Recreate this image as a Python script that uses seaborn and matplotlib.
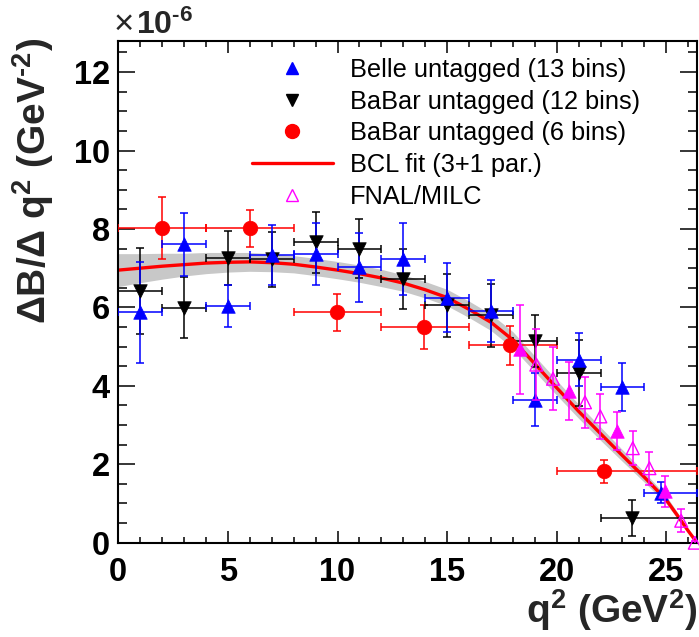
import numpy as np
import pandas as pd
import matplotlib
matplotlib.use("Agg")
import matplotlib.pyplot as plt
import seaborn as sns
from matplotlib.ticker import MultipleLocator
from matplotlib.lines import Line2D

# ---------------- data (units of 1e-6) ----------------
belle_x = [1, 3, 5, 7, 9, 11, 13, 15, 17, 19, 21, 23, 24.75]
belle_xlo = [0, 2, 4, 6, 8, 10, 12, 14, 16, 18, 20, 22, 24]
belle_xhi = [2, 4, 6, 8, 10, 12, 14, 16, 18, 20, 22, 24, 26.4]
belle_y = [5.87, 7.61, 6.04, 7.33, 7.36, 7.02, 7.23, 6.25, 5.91, 3.65, 4.67, 3.97, 1.28]
belle_yerr = [1.29, 0.80, 0.54, 0.76, 0.80, 0.88, 0.92, 0.88, 0.78, 0.67, 0.67, 0.62, 0.28]

babar12_x = [1, 3, 5, 7, 9, 11, 13, 15, 17, 19, 21, 23.45]
babar12_xlo = [0, 2, 4, 6, 8, 10, 12, 14, 16, 18, 20, 22]
babar12_xhi = [2, 4, 6, 8, 10, 12, 14, 16, 18, 20, 22, 26.4]
babar12_y = [6.42, 5.99, 7.26, 7.23, 7.66, 7.50, 6.72, 6.05, 5.80, 5.14, 4.33, 0.62]
babar12_yerr = [1.10, 0.78, 0.70, 0.70, 0.78, 0.76, 0.77, 0.80, 0.80, 0.67, 0.85, 0.46]

babar6_x = [2.0, 6.0, 9.98, 13.93, 17.89, 22.18]
babar6_xlo = [0, 4, 8, 12, 16, 20]
babar6_xhi = [4, 8, 12, 16, 20, 26.4]
babar6_y = [8.02, 8.02, 5.87, 5.50, 5.03, 1.82]
babar6_yerr = [0.79, 0.47, 0.48, 0.55, 0.50, 0.30]

fnal_open_x = [19.07, 19.83, 21.29, 21.99, 23.47, 24.23, 25.68, 26.30]
fnal_open_y = [4.54, 4.18, 3.58, 3.22, 2.41, 1.90, 0.56, 0.00]
fnal_open_yerr = [0.90, 0.80, 0.65, 0.58, 0.44, 0.42, 0.29, 0.05]
fnal_fill_x = [18.34, 20.56, 22.75, 24.96]
fnal_fill_y = [4.93, 3.86, 2.84, 1.31]
fnal_fill_yerr = [1.14, 0.74, 0.48, 0.40]

fit_x = [0, 1, 2, 3, 4, 5, 6, 7, 8, 9, 10, 11, 12, 13, 14, 15, 16, 17, 18, 19,
         20, 21, 22, 23, 24, 25, 25.5, 26, 26.4]
fit_y = [6.95, 7.00, 7.05, 7.09, 7.13, 7.15, 7.16, 7.14, 7.10, 7.03, 6.95, 6.86,
         6.75, 6.62, 6.45, 6.25, 5.95, 5.62, 5.17, 4.56, 3.95, 3.35, 2.78, 2.22,
         1.67, 1.09, 0.70, 0.30, 0.00]
fit_err = [0.42, 0.37, 0.33, 0.29, 0.27, 0.25, 0.24, 0.23, 0.22, 0.22, 0.22, 0.22,
           0.22, 0.21, 0.21, 0.21, 0.21, 0.21, 0.21, 0.20, 0.19, 0.18, 0.17, 0.15,
           0.13, 0.10, 0.08, 0.04, 0.00]

legend_labels = ["Belle untagged (13 bins)", "BaBar untagged (12 bins)",
                 "BaBar untagged (6 bins)", "BCL fit (3+1 par.)", "FNAL/MILC"]

# ---------------- style ----------------
sns.set_theme(style="ticks")
plt.rcParams["font.family"] = ["Liberation Sans", "DejaVu Sans"]
plt.rcParams["mathtext.default"] = "regular"
plt.rcParams["axes.linewidth"] = 1.5

W, H = 699, 637
fig = plt.figure(figsize=(W / 100, H / 100), dpi=100)
ax = fig.add_axes([118.3 / W, 1 - 542.7 / H, (697 - 118.3) / W, (542.7 - 40.7) / H])
ax.set_facecolor("white")
fig.patch.set_facecolor("white")

fit_df = pd.DataFrame({"x": fit_x, "y": fit_y, "e": fit_err})
lo = np.array(fit_y) - np.array(fit_err)
hi = np.array(fit_y) + np.array(fit_err)
ax.fill_between(fit_df["x"], lo, hi, color="#c8c8c8", lw=0, zorder=1)
sns.lineplot(data=fit_df, x="x", y="y", color="red", lw=2.4, ax=ax, zorder=2,
             estimator=None, sort=False)

def series(x, xlo, xhi, y, yerr, color, marker, ms, z):
    x = np.array(x, float)
    xerr = [x - np.array(xlo, float), np.array(xhi, float) - x]
    ax.errorbar(x, y, xerr=xerr, yerr=yerr, fmt="none", ecolor=color,
                elinewidth=1.1, capsize=2.8, capthick=1.1, zorder=z)
    df = pd.DataFrame({"x": x, "y": y})
    sns.scatterplot(data=df, x="x", y="y", marker=marker, color=color, s=ms,
                    edgecolor=color, linewidth=0.5, ax=ax, zorder=z + 0.5)

series(babar6_x, babar6_xlo, babar6_xhi, babar6_y, babar6_yerr, "red", "o", 110, 3)
series(babar12_x, babar12_xlo, babar12_xhi, babar12_y, babar12_yerr, "black", "v", 95, 3)
series(belle_x, belle_xlo, belle_xhi, belle_y, belle_yerr, "blue", "^", 95, 3)

# FNAL/MILC
ax.errorbar(fnal_open_x, fnal_open_y, yerr=fnal_open_yerr, fmt="none", ecolor="magenta",
            elinewidth=1.1, capsize=2.8, capthick=1.1, zorder=5)
ax.errorbar(fnal_fill_x, fnal_fill_y, yerr=fnal_fill_yerr, fmt="none", ecolor="magenta",
            elinewidth=1.1, capsize=2.8, capthick=1.1, zorder=5)
ax.scatter(fnal_open_x, fnal_open_y, marker="^", s=85, facecolor="none",
           edgecolor="magenta", linewidth=1.0, zorder=6, clip_on=False)
sns.scatterplot(x=fnal_fill_x, y=fnal_fill_y, marker="^", s=95, color="magenta",
                edgecolor="magenta", linewidth=0.5, ax=ax, zorder=6)

ax.set_xlim(0, 26.4)
ax.set_ylim(0, 12.8)
ax.set_xlabel("")
ax.set_ylabel("")

ax.xaxis.set_major_locator(MultipleLocator(5))
ax.xaxis.set_minor_locator(MultipleLocator(1))
ax.yaxis.set_major_locator(MultipleLocator(2))
ax.yaxis.set_minor_locator(MultipleLocator(0.5))
ax.tick_params(axis="both", which="both", direction="in", top=True, right=True,
               width=1.1, color="black")
ax.tick_params(axis="x", which="major", length=8.6, pad=10)
ax.tick_params(axis="x", which="minor", length=4.3)
ax.tick_params(axis="y", which="major", length=12.5, pad=6)
ax.tick_params(axis="y", which="minor", length=6.5)
for lab in ax.get_xticklabels() + ax.get_yticklabels():
    lab.set_fontsize(23.5)
    lab.set_fontweight("bold")
    lab.set_color("black")
for sp in ax.spines.values():
    sp.set_color("black")
    sp.set_linewidth(1.5)

# axis titles
fig.text(697 / W, 1 - 623 / H, "q$^{2}$ (GeV$^{2}$)", ha="right", va="baseline",
         fontsize=28, fontweight="bold")
fig.text(33 / W, 1 - 38 / H, "ΔB/Δ q$^{2}$ (GeV$^{\u2010 2}$)", ha="center", va="top",
         rotation=90, fontsize=28, fontweight="bold")
fig.text(114 / W, 1 - 34 / H, "×", ha="left", va="baseline", fontsize=25)
fig.text(136 / W, 1 - 34 / H, "10$^{\u2010 6}$", ha="left", va="baseline",
         fontsize=23, fontweight="bold")

# legend
handles = [
    Line2D([], [], ls="none", marker="^", color="blue", ms=9),
    Line2D([], [], ls="none", marker="v", color="black", ms=9),
    Line2D([], [], ls="none", marker="o", color="red", ms=10),
    Line2D([], [], color="red", lw=2.4),
    Line2D([], [], ls="none", marker="^", mfc="none", mec="magenta", ms=9, mew=1.0),
]
leg = ax.legend(handles, legend_labels, loc="upper left",
                bbox_to_anchor=(251.7 / W, 1 - 58 / H), bbox_transform=fig.transFigure,
                frameon=False, fontsize=18.3, handlelength=3.2, handletextpad=0.65,
                labelspacing=0.3, borderpad=0, borderaxespad=0)
for t in leg.get_texts():
    t.set_color("black")

fig.savefig("out.png", dpi=100, facecolor="white")
